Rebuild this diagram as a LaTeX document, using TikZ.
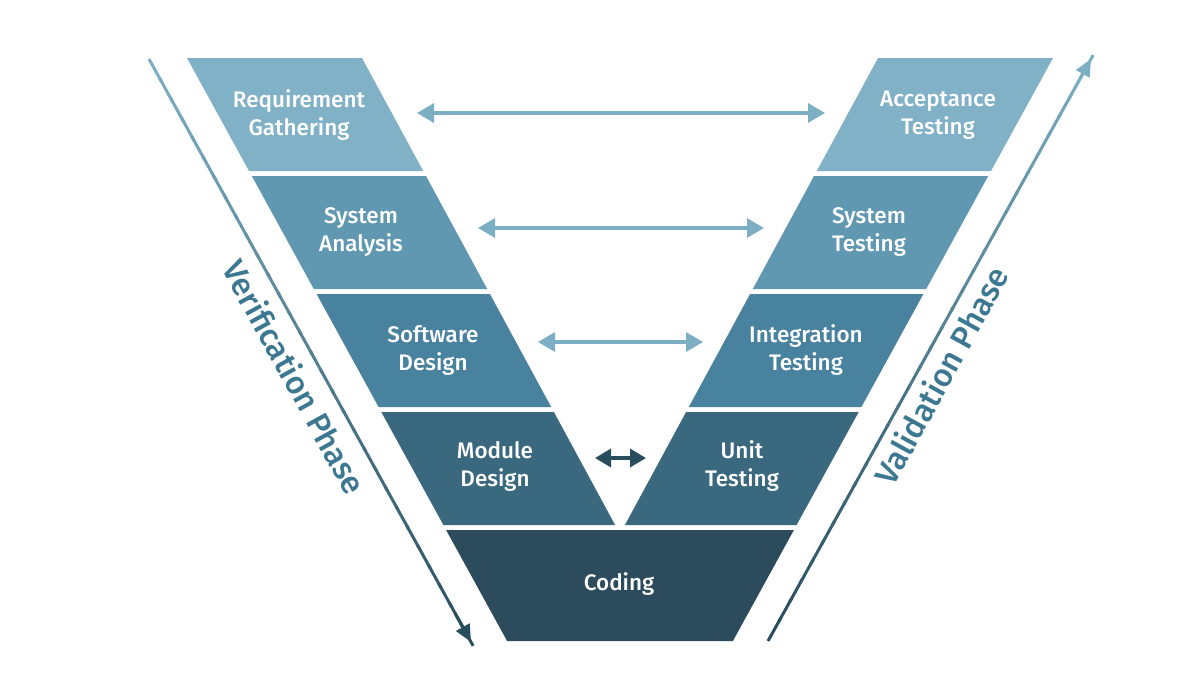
\documentclass[tikz,border=0pt]{standalone}
\usepackage{fontspec}
\setmainfont{Fira Sans}[BoldFont={Fira Sans Medium}]
\usetikzlibrary{arrows.meta,calc}
\definecolor{cA}{RGB}{128,177,198}
\definecolor{cB}{RGB}{96,152,178}
\definecolor{cC}{RGB}{73,130,158}
\definecolor{cD}{RGB}{58,104,126}
\definecolor{cE}{RGB}{44,75,92}
\definecolor{lineL}{RGB}{125,175,196}
\definecolor{lineD}{RGB}{40,78,94}
\definecolor{phasec}{RGB}{60,120,145}
\tikzset{
  lbl/.style={text=white, font=\bfseries\fontsize{22.5}{28}\selectfont, align=center, inner sep=0pt},
  phase/.style={text=phasec, font=\bfseries\fontsize{32}{36}\selectfont, inner sep=0pt},
  harrow/.style={{Triangle[length=17pt,width=19pt]}-{Triangle[length=17pt,width=19pt]}, line width=3.2pt, draw=lineL},
  darrow/.style={{Triangle[length=16pt,width=18pt]}-{Triangle[length=16pt,width=18pt]}, line width=3.5pt, draw=lineD}
}
\begin{document}
\begin{tikzpicture}[x=1pt,y=-1pt]
\useasboundingbox (0,0) rectangle (1200,675);
\fill[white] (0,0) rectangle (1200,675);
% left bands
\fill[cA] (187,58) -- (362,58) -- (423.2,171) -- (249.0,171) -- cycle;
\fill[cB] (251.8,176) -- (426.0,176) -- (487.2,289) -- (313.8,289) -- cycle;
\fill[cC] (316.6,294) -- (489.9,294) -- (551.2,407) -- (378.6,407) -- cycle;
\fill[cD] (381.3,412) -- (553.9,412) -- (615.1,525) -- (443.4,525) -- cycle;
% right bands
\fill[cA] (878,58) -- (1053,58) -- (991,171) -- (816.8,171) -- cycle;
\fill[cB] (814,176) -- (988.2,176) -- (926.2,289) -- (752.8,289) -- cycle;
\fill[cC] (750.1,294) -- (923.4,294) -- (861.4,407) -- (688.8,407) -- cycle;
\fill[cD] (686.1,412) -- (858.7,412) -- (796.6,525) -- (624.9,525) -- cycle;
% coding
\fill[cE] (446.1,530) -- (793.9,530) -- (732.9,641) -- (507.1,641) -- cycle;

% labels
\node[lbl] (rg) at (299,115) {Requirement\\Gathering};
\node[lbl] (sa) at (361,232) {System\\Analysis};
\node[lbl] (sd) at (433,350) {Software\\Design};
\node[lbl] (md) at (495,466) {Module\\Design};
\node[lbl] (cd) at (619,584) {Coding};
\node[lbl] (at) at (938,115) {Acceptance\\Testing};
\node[lbl] (st) at (869,232) {System\\Testing};
\node[lbl] (it) at (806,350) {Integration\\Testing};
\node[lbl] (ut) at (742,466) {Unit\\Testing};

% horizontal arrows
\coordinate (a1l) at (417,113); \coordinate (a1r) at (825,113);
\coordinate (a2l) at (478,228); \coordinate (a2r) at (764,228);
\coordinate (a3l) at (538,342); \coordinate (a3r) at (703,342);
\coordinate (a4l) at (595,458); \coordinate (a4r) at (646,458);
\draw[harrow] (a1l) -- (a1r);
\draw[harrow] (a2l) -- (a2r);
\draw[harrow] (a3l) -- (a3r);
\draw[darrow] (a4l) -- (a4r);

% phase lines
\coordinate (vs) at (149,59); \coordinate (ve) at (471,642);
\coordinate (ws) at (768,641); \coordinate (we) at (1091,59);
\foreach \i in {0,...,29} {
  \pgfmathsetmacro\p{100-\i*100/30}
  \pgfmathsetmacro\a{\i/30}
  \pgfmathsetmacro\b{(\i+1.2)/30}
  \draw[line width=3pt, color=lineL!\p!lineD] ($(vs)!\a!(ve)$) -- ($(vs)!\b!(ve)$);
  \draw[line width=3pt, color=lineD!\p!lineL] ($(ws)!\a!(we)$) -- ($(ws)!\b!(we)$);
}
\draw[-{Triangle[length=17pt,width=15pt]}, line width=3pt, lineD] ($(vs)!0.95!(ve)$) -- (ve);
\draw[-{Triangle[length=17pt,width=15pt]}, line width=3pt, lineL] ($(ws)!0.95!(we)$) -- (we);

\node[phase, rotate=-61.2] (vp) at (295,377) {Verification Phase};
\node[phase, rotate=61.2] (vap) at (941,375) {Validation Phase};
\end{tikzpicture}
\end{document}
